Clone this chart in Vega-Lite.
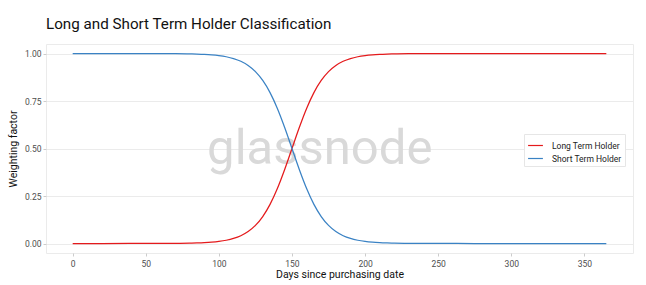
{
  "$schema": "https://vega.github.io/schema/vega-lite/v6.json",
  "width": 587,
  "height": 209,
  "autosize": "none",
  "padding": {"left": 46, "top": 44, "right": 13, "bottom": 32},
  "background": "white",
  "title": {
    "text": "Long and Short Term Holder Classification",
    "anchor": "start",
    "frame": "group",
    "font": "Roboto",
    "fontSize": 15.2,
    "fontWeight": "normal",
    "color": "#111111",
    "offset": 12
  },
  "config": {
    "font": "Roboto",
    "view": {"stroke": "#ebebeb", "strokeWidth": 1},
    "axis": {
      "labelFont": "Roboto",
      "labelFontSize": 8.5,
      "labelColor": "#4d4d4d",
      "titleFont": "Roboto",
      "titleFontSize": 10.5,
      "titleFontWeight": "normal",
      "titleColor": "#111111",
      "tickColor": "#cccccc",
      "tickSize": 3,
      "gridColor": "#ebebeb",
      "domain": false
    }
  },
  "datasets": {
    "curves": [
      {"d": 0, "Long Term Holder": 0.0, "Short Term Holder": 1.0},
      {"d": 20, "Long Term Holder": 0.0, "Short Term Holder": 1.0},
      {"d": 40, "Long Term Holder": 0.00005, "Short Term Holder": 0.99995},
      {"d": 50, "Long Term Holder": 0.0001, "Short Term Holder": 0.9999},
      {"d": 60, "Long Term Holder": 0.0003, "Short Term Holder": 0.9997},
      {"d": 70, "Long Term Holder": 0.0007, "Short Term Holder": 0.9993},
      {"d": 80, "Long Term Holder": 0.0018, "Short Term Holder": 0.9982},
      {"d": 85, "Long Term Holder": 0.0029, "Short Term Holder": 0.9971},
      {"d": 90, "Long Term Holder": 0.0045, "Short Term Holder": 0.9955},
      {"d": 95, "Long Term Holder": 0.007, "Short Term Holder": 0.993},
      {"d": 100, "Long Term Holder": 0.011, "Short Term Holder": 0.989},
      {"d": 105, "Long Term Holder": 0.0171, "Short Term Holder": 0.9829},
      {"d": 110, "Long Term Holder": 0.0266, "Short Term Holder": 0.9734},
      {"d": 115, "Long Term Holder": 0.0411, "Short Term Holder": 0.9589},
      {"d": 120, "Long Term Holder": 0.063, "Short Term Holder": 0.937},
      {"d": 125, "Long Term Holder": 0.0953, "Short Term Holder": 0.9047},
      {"d": 130, "Long Term Holder": 0.1419, "Short Term Holder": 0.8581},
      {"d": 135, "Long Term Holder": 0.2059, "Short Term Holder": 0.7941},
      {"d": 140, "Long Term Holder": 0.2891, "Short Term Holder": 0.7109},
      {"d": 145, "Long Term Holder": 0.3894, "Short Term Holder": 0.6106},
      {"d": 150, "Long Term Holder": 0.5, "Short Term Holder": 0.5},
      {"d": 155, "Long Term Holder": 0.6106, "Short Term Holder": 0.3894},
      {"d": 160, "Long Term Holder": 0.7109, "Short Term Holder": 0.2891},
      {"d": 165, "Long Term Holder": 0.7941, "Short Term Holder": 0.2059},
      {"d": 170, "Long Term Holder": 0.8581, "Short Term Holder": 0.1419},
      {"d": 175, "Long Term Holder": 0.9047, "Short Term Holder": 0.0953},
      {"d": 180, "Long Term Holder": 0.937, "Short Term Holder": 0.063},
      {"d": 185, "Long Term Holder": 0.9589, "Short Term Holder": 0.0411},
      {"d": 190, "Long Term Holder": 0.9734, "Short Term Holder": 0.0266},
      {"d": 195, "Long Term Holder": 0.9829, "Short Term Holder": 0.0171},
      {"d": 200, "Long Term Holder": 0.989, "Short Term Holder": 0.011},
      {"d": 205, "Long Term Holder": 0.993, "Short Term Holder": 0.007},
      {"d": 210, "Long Term Holder": 0.9955, "Short Term Holder": 0.0045},
      {"d": 215, "Long Term Holder": 0.9971, "Short Term Holder": 0.0029},
      {"d": 220, "Long Term Holder": 0.9982, "Short Term Holder": 0.0018},
      {"d": 230, "Long Term Holder": 0.9993, "Short Term Holder": 0.0007},
      {"d": 240, "Long Term Holder": 0.9997, "Short Term Holder": 0.0003},
      {"d": 250, "Long Term Holder": 0.9999, "Short Term Holder": 0.0001},
      {"d": 275, "Long Term Holder": 1.0, "Short Term Holder": 0.0},
      {"d": 300, "Long Term Holder": 1.0, "Short Term Holder": 0.0},
      {"d": 325, "Long Term Holder": 1.0, "Short Term Holder": 0.0},
      {"d": 365, "Long Term Holder": 1.0, "Short Term Holder": 0.0}
    ],
    "mark": [{"d": 169, "v": 0.5, "t": "glassnode"}]
  },
  "layer": [
    {
      "data": {"name": "mark"},
      "mark": {"type": "text", "font": "Roboto", "fontSize": 49, "color": "#d9d9d9", "baseline": "middle", "align": "center"},
      "encoding": {
        "x": {"field": "d", "type": "quantitative"},
        "y": {"field": "v", "type": "quantitative"},
        "text": {"field": "t", "type": "nominal"}
      }
    },
    {
      "data": {"name": "curves"},
      "transform": [{"fold": ["Long Term Holder", "Short Term Holder"], "as": ["series", "v"]}],
      "mark": {"type": "line", "strokeWidth": 1.25, "interpolate": "monotone"},
      "encoding": {
        "x": {
          "field": "d",
          "type": "quantitative",
          "scale": {"domain": [-18.25, 383.25], "nice": false, "zero": false},
          "axis": {"values": [0, 50, 100, 150, 200, 250, 300, 350], "grid": false, "title": "Days since purchasing date", "labelPadding": 3, "titlePadding": 2}
        },
        "y": {
          "field": "v",
          "type": "quantitative",
          "scale": {"domain": [-0.05, 1.05], "nice": false, "zero": false},
          "axis": {"values": [0, 0.25, 0.5, 0.75, 1], "format": ".2f", "title": "Weighting factor", "labelPadding": 2, "titlePadding": 6}
        },
        "color": {
          "field": "series",
          "type": "nominal",
          "scale": {"domain": ["Long Term Holder", "Short Term Holder"], "range": ["#e41a1c", "#3a82c4"]},
          "legend": {
            "title": null,
            "orient": "none",
            "legendX": 478,
            "legendY": 90,
            "strokeColor": "#e6e6e6",
            "fillColor": "white",
            "padding": 3,
            "rowPadding": 0,
            "labelFont": "Roboto",
            "labelFontSize": 8.5,
            "labelColor": "#222222",
            "labelOffset": 8,
            "symbolType": "stroke",
            "symbolSize": 220,
            "symbolStrokeWidth": 1.2
          }
        }
      }
    }
  ]
}
